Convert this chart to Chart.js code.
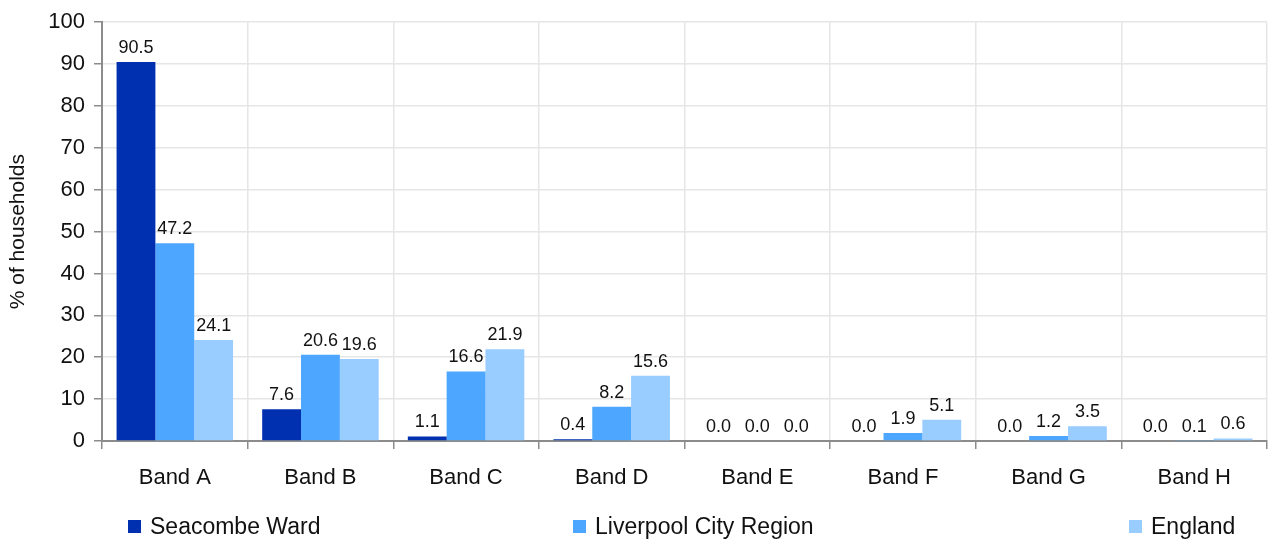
<!DOCTYPE html>
<html>
<head>
<meta charset="utf-8">
<script src="https://cdn.jsdelivr.net/npm/chart.js@4/dist/chart.umd.min.js"></script>
<style>
  html, body { margin: 0; padding: 0; background: #fff; }
  #wrap { position: relative; width: 1269px; height: 540px; font-family: "Liberation Sans", Arial, sans-serif; }
  #legend .item { position: absolute; top: 512px; display: flex; align-items: center; font-size: 23px; line-height: 28px; color: #111; }
  #legend .sw { width: 13px; height: 13px; margin-right: 9px; }
</style>
</head>
<body>
<div id="wrap">
  <canvas id="c" width="1269" height="540"></canvas>
  <div id="legend"></div>
</div>
<script>
// Council tax band distribution (% of households)
const bands = ["Band A", "Band B", "Band C", "Band D", "Band E", "Band F", "Band G", "Band H"];
const seacombe = [90.5, 7.6, 1.1, 0.4, 0.0, 0.0, 0.0, 0.0];
const liverpool = [47.2, 20.6, 16.6, 8.2, 0.0, 1.9, 1.2, 0.1];
const england = [24.1, 19.6, 21.9, 15.6, 0.0, 5.1, 3.5, 0.6];
const seriesNames = ["Seacombe Ward", "Liverpool City Region", "England"];
const seriesColors = ["#0030B0", "#4DA6FF", "#99CCFF"];
const yTicks = [0, 10, 20, 30, 40, 50, 60, 70, 80, 90, 100];

const FONT = "'Liberation Sans', Arial, sans-serif";

// Value labels above each bar
const valueLabels = {
  id: "valueLabels",
  afterDatasetsDraw(chart) {
    const ctx = chart.ctx;
    ctx.save();
    ctx.font = "18px " + FONT;
    ctx.fillStyle = "#111";
    ctx.textAlign = "center";
    ctx.textBaseline = "alphabetic";
    chart.data.datasets.forEach((ds, i) => {
      chart.getDatasetMeta(i).data.forEach((bar, j) => {
        ctx.fillText(ds.data[j].toFixed(1), bar.x, bar.y - 9);
      });
    });
    ctx.restore();
  }
};

const datasets = [seacombe, liverpool, england].map((d, i) => ({
  label: seriesNames[i],
  data: d,
  backgroundColor: seriesColors[i],
  borderWidth: 0,
  categoryPercentage: 0.8,
  barPercentage: 1.0
}));

new Chart(document.getElementById("c"), {
  type: "bar",
  data: { labels: bands, datasets },
  plugins: [valueLabels],
  options: {
    responsive: false,
    animation: false,
    layout: { padding: { top: 21, right: 2, left: 0, bottom: 0 } },
    plugins: { legend: { display: false }, tooltip: { enabled: false } },
    scales: {
      x: {
        grid: { offset: true, color: "#e6e6e6", lineWidth: 1.5, tickColor: "#8c8c8c", tickLength: 8, drawTicks: true },
        border: { color: "#8c8c8c", width: 2 },
        ticks: { color: "#111", font: { family: FONT, size: 22 }, padding: 16 },
        afterFit(scale) { scale.height = 99; }
      },
      y: {
        min: 0, max: 100,
        afterBuildTicks(scale) { scale.ticks = yTicks.map(v => ({ value: v })); },
        grid: { color: "#e6e6e6", lineWidth: 1.5, tickColor: "#8c8c8c", tickLength: 8 },
        border: { color: "#8c8c8c", width: 2 },
        ticks: { color: "#111", font: { family: FONT, size: 22 }, padding: 9 },
        title: { display: true, text: "% of households", color: "#111", font: { family: FONT, size: 21 }, padding: { top: 6, bottom: 4 } },
        afterFit(scale) { scale.width = 102; }
      }
    }
  }
});

// Legend along the bottom
const legendPos = [128, 573, 1129];
const legend = document.getElementById("legend");
seriesNames.forEach((name, i) => {
  const item = document.createElement("div");
  item.className = "item";
  item.style.left = legendPos[i] + "px";
  const sw = document.createElement("span");
  sw.className = "sw";
  sw.style.background = seriesColors[i];
  const tx = document.createElement("span");
  tx.textContent = name;
  item.appendChild(sw);
  item.appendChild(tx);
  legend.appendChild(item);
});
</script>
</body>
</html>
